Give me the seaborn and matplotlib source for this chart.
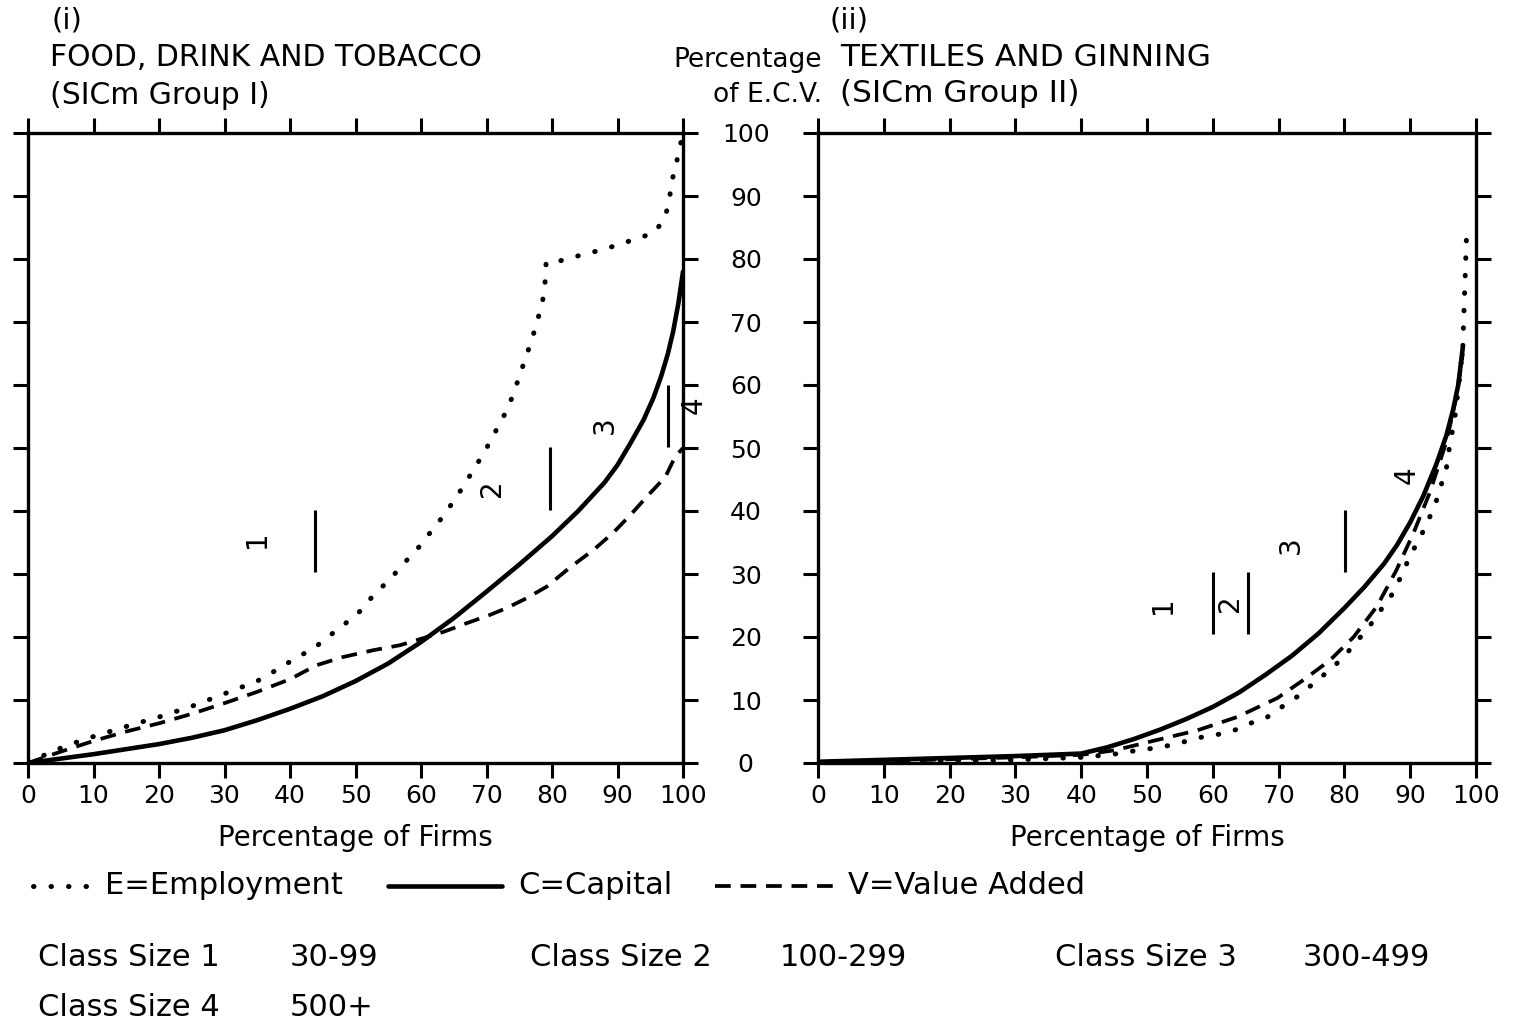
import matplotlib
matplotlib.use("Agg")
import matplotlib.pyplot as plt
from matplotlib.lines import Line2D
import seaborn as sns

# ---- Panel (i): Food, drink and tobacco -------------------------------
food_emp_x = [0, 3, 6, 10, 15, 20, 25, 30, 35, 38, 41.1, 43.5, 45.8, 48.4, 50.7,
              52.8, 55.3, 57.4, 59.7, 61.5, 63.4, 65.2, 66.7, 68.1, 69.6, 71, 72.7,
              73.9, 75, 75.9, 76.9, 77.7, 78.5, 78.9, 79.1, 81.2, 84, 87, 90, 92.8,
              95.5, 97.1, 97.9, 98.2, 98.8, 99.3, 100]
food_emp_y = [0, 1.5, 2.8, 4.2, 5.8, 7.3, 9, 11, 13, 14.8, 16.8, 18.1, 20, 22.1, 24.1,
              26.7, 29.2, 31.7, 34.3, 36.7, 39.2, 41.9, 44.3, 46.7, 49.2, 51.9, 55.2,
              58, 61.3, 64.1, 67.1, 70, 72.9, 75.6, 79.5, 79.7, 80.5, 81.3, 82.2, 83.2,
              84.1, 86.2, 89, 92, 94.3, 96.7, 100]

food_cap_x = [0, 5, 10, 15, 20, 25, 30, 35, 40, 45, 50, 55, 60, 65, 70, 75, 80, 84,
              88, 90, 92, 94, 95.5, 96.7, 97.7, 98.5, 99.3, 100]
food_cap_y = [0, 0.7, 1.4, 2.2, 3.0, 4.0, 5.2, 6.8, 8.6, 10.6, 13.0, 15.8, 19.2, 23,
              27.2, 31.5, 36, 40, 44.5, 47.3, 50.8, 54.5, 58, 61.5, 65, 68.5, 73, 78]

food_va_x = [0, 5, 10, 15, 20, 25, 30, 35, 40, 44, 48, 52.7, 56.8, 60.3, 63.4, 67,
             70.5, 73.1, 76.2, 79.2, 82.7, 86.3, 89.3, 92, 94.5, 97.3, 98.8, 100]
food_va_y = [0, 1.8, 3.5, 5, 6.3, 7.8, 9.5, 11.3, 13.3, 15.5, 16.8, 17.9, 18.7, 19.8,
             20.8, 22.2, 23.5, 24.6, 26.2, 28, 31, 33.8, 36.5, 39.4, 42.3, 45.4, 48.6, 50]

# ---- Panel (ii): Textiles and ginning ---------------------------------
tex_emp_x = [0, 10, 20, 30, 40, 45, 48.5, 52.1, 55.1, 57.7, 60.3, 63.3, 65.7, 68.3,
             70.2, 72.8, 75.4, 77.8, 79.9, 81.6, 83.4, 85.2, 87.2, 88.7, 89.9, 91.7,
             92.8, 94, 94.7, 95.5, 95.9, 96.8, 97.5, 98, 98.1, 98.2, 98.3, 98.4, 98.5, 98.6]
tex_emp_y = [0, 0.1, 0.3, 0.5, 0.9, 1.4, 2, 2.5, 3.2, 4, 4.4, 5.2, 6.3, 7.3,
             8.7, 10.5, 12.7, 14.8, 16.8, 19, 21.1, 23.8, 26.7, 29.8, 32.7, 36.2,
             38.6, 41.7, 44.1, 46.8, 49.7, 55, 61, 66, 69.5, 72.5, 75.6, 78.5, 81.9, 84.6]

tex_cap_x = [0, 10, 20, 30, 40, 44, 48, 52, 56, 60, 64, 68, 72, 76, 80, 83, 86, 88,
             90, 92, 94, 95.5, 96.5, 97.3, 98]
tex_cap_y = [0.2, 0.5, 0.8, 1.1, 1.5, 2.5, 3.8, 5.3, 7.0, 8.9, 11.2, 14.0, 17.0, 20.5,
             24.6, 27.9, 31.6, 34.6, 38.2, 42.4, 47.5, 52, 56, 60, 66]

tex_va_x = [0, 10, 20, 30, 40, 45, 51.7, 57.7, 63.7, 69.8, 73.8, 77.8, 81.4, 84.9,
            87.9, 90.5, 93, 95.5, 97, 98]
tex_va_y = [0.1, 0.3, 0.6, 0.9, 1.3, 2.0, 3.7, 5.2, 7.3, 10.3, 13.2, 16.3, 20, 24.8,
            30.6, 36.5, 43, 51, 58, 65]

# Class-size boundaries: (x, y_low, y_high) and number labels (text, x, y)
food_bounds = [(43.8, 30.3, 40.2), (79.7, 40.2, 50.2), (97.7, 50.2, 60.0)]
food_sizes = [("1", 35.0, 35.5), ("2", 70.8, 43.7), ("3", 88.1, 53.7), ("4", 101.6, 56.8)]
tex_bounds = [(60.0, 20.5, 30.3), (65.3, 20.5, 30.3), (80.1, 30.3, 40.2)]
tex_sizes = [("1", 52.4, 25.1), ("2", 62.6, 25.4), ("3", 71.8, 34.6), ("4", 89.4, 45.7)]

ticks = [0, 10, 20, 30, 40, 50, 60, 70, 80, 90, 100]
tick_labels = [str(t) for t in ticks]

sns.set_style("ticks")
plt.rcParams["font.family"] = ["DejaVu Sans"]
for key_name in ("text.color", "axes.labelcolor", "xtick.color", "ytick.color",
                 "axes.edgecolor"):
    plt.rcParams[key_name] = "black"

W, H = 1517, 1023
fig = plt.figure(figsize=(W / 100, H / 100), dpi=100)
fig.patch.set_facecolor("white")


def px(x0, y0, x1, y1):
    return [x0 / W, 1 - y1 / H, (x1 - x0) / W, (y1 - y0) / H]


ax1 = fig.add_axes(px(28, 133, 683, 763))
ax2 = fig.add_axes(px(818, 133, 1476, 763))

DOT = dict(color="black", lw=3.6, linestyle=(0, (0.1, 3.4)), dash_capstyle="round")
SOLID = dict(color="black", lw=3.3, linestyle="-")
DASH = dict(color="black", lw=2.7, linestyle=(0, (4.2, 2.6)))

series = [
    (ax1, food_emp_x, food_emp_y, DOT),
    (ax1, food_cap_x, food_cap_y, SOLID),
    (ax1, food_va_x, food_va_y, DASH),
    (ax2, tex_emp_x, tex_emp_y, DOT),
    (ax2, tex_cap_x, tex_cap_y, SOLID),
    (ax2, tex_va_x, tex_va_y, DASH),
]
for ax, xs, ys, style in series:
    sns.lineplot(x=xs, y=ys, ax=ax, sort=False, estimator=None, legend=False, **style)

for ax in (ax1, ax2):
    ax.set_xlim(0, 100)
    ax.set_ylim(0, 100)
    ax.set_xticks(ticks)
    ax.set_xticklabels(tick_labels, fontsize=18)
    ax.set_yticks(ticks)
    ax.tick_params(direction="out", length=11, width=2.2, top=True, right=True,
                   labeltop=False, labelright=False, color="black", labelcolor="black",
                   pad=4)
    for sp in ax.spines.values():
        sp.set_visible(True)
        sp.set_linewidth(2.4)
        sp.set_color("black")
    ax.set_xlabel("Percentage of Firms", fontsize=20, labelpad=12, color="black")
    ax.set_ylabel("")
    ax.set_facecolor("white")

ax1.tick_params(labelleft=False)
ax2.set_yticklabels(tick_labels, fontsize=18)
ax2.tick_params(axis="y", which="both", pad=41)
for lab in ax2.get_yticklabels():
    lab.set_horizontalalignment("center")

for ax, bounds, sizes in ((ax1, food_bounds, food_sizes), (ax2, tex_bounds, tex_sizes)):
    for bx, ylo, yhi in bounds:
        ax.vlines(bx, ylo, yhi, color="black", lw=2.2)
    for txt, tx, ty in sizes:
        ax.text(tx, ty, txt, rotation=90, ha="center", va="center", fontsize=20,
                clip_on=False)

# Panel headings
fig.text(52 / W, 1 - 20 / H, "(i)", fontsize=21, ha="left", va="center")
fig.text(50 / W, 1 - 58 / H, "FOOD, DRINK AND TOBACCO", fontsize=21.5, ha="left", va="center")
fig.text(50 / W, 1 - 95 / H, "(SICm Group I)", fontsize=21.5, ha="left", va="center")
fig.text(830 / W, 1 - 20 / H, "(ii)", fontsize=21, ha="left", va="center")
fig.text(840 / W, 1 - 57 / H, "TEXTILES AND GINNING", fontsize=22.5, ha="left", va="center")
fig.text(840 / W, 1 - 94 / H, "(SICm Group II)", fontsize=22.5, ha="left", va="center")
fig.text(822 / W, 1 - 60 / H, "Percentage", fontsize=19, ha="right", va="center")
fig.text(822 / W, 1 - 95 / H, "of E.C.V.", fontsize=19, ha="right", va="center")

# Line-style key
key_y = 1 - 886 / H
key = [
    ((33, 95), DOT, 105, "E=Employment"),
    ((388, 502), SOLID, 518, "C=Capital"),
    ((715, 835), DASH, 848, "V=Value Added"),
]
for (x0, x1), style, tx, label in key:
    fig.add_artist(Line2D([x0 / W, x1 / W], [key_y, key_y], transform=fig.transFigure,
                          **style))
    fig.text(tx / W, key_y, label, fontsize=22, ha="left", va="center")

# Class-size key
class_rows = [
    (958, [(38, "Class Size 1"), (290, "30-99"), (530, "Class Size 2"), (780, "100-299"),
           (1055, "Class Size 3"), (1303, "300-499")]),
    (1008, [(38, "Class Size 4"), (290, "500+")]),
]
for ypix, items in class_rows:
    for xpix, txt in items:
        fig.text(xpix / W, 1 - ypix / H, txt, fontsize=22, ha="left", va="center")

fig.savefig("out.png", dpi=100, facecolor="white")
